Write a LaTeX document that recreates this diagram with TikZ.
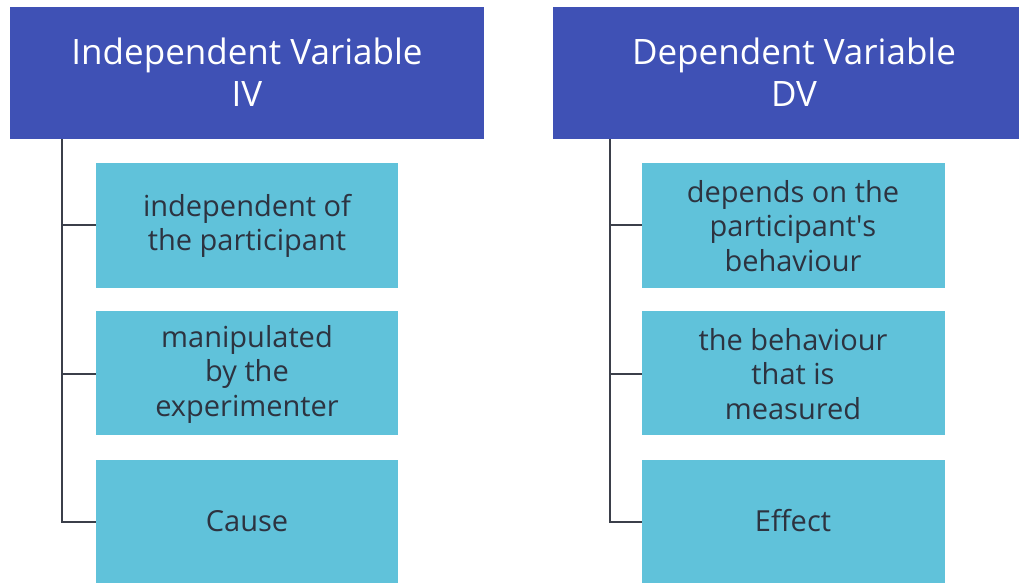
\documentclass[tikz,border=0pt]{standalone}
\usepackage{fontspec}
\setmainfont{Open Sans}
% same face without TeX quote ligatures, for a straight apostrophe
\newfontfamily\straightquote{Open Sans}
\definecolor{headblue}{HTML}{3F51B5}
\definecolor{itemcyan}{HTML}{60C2DA}
\definecolor{inkdark}{HTML}{2D3340}
\definecolor{linegray}{HTML}{3B3F4A}
\begin{document}
\begin{tikzpicture}[x=1pt,y=-1pt,
  header/.style={text=white, align=center,
    font=\fontsize{35}{42}\selectfont},
  item/.style={text=inkdark, align=center,
    font=\fontsize{29}{34.5}\selectfont},
  headbox/.style={fill=headblue},
  itembox/.style={fill=itemcyan},
  branch/.style={draw=linegray, line width=2pt}]
\clip (0,0) rectangle (1019,583);
\fill[white] (0,0) rectangle (1019,583);

% header boxes
\path[headbox] (10,7) rectangle (484,139);
\node[header] (ivh) at (247,72) {Independent Variable\\IV};
\path[headbox] (553,7) rectangle (1035,139);
\node[header] (dvh) at (794,72) {Dependent Variable\\DV};

% item boxes, left column
\path[itembox] (96,163) rectangle (398,288);
\node[item] (iv1) at (247,226) {independent of\\the participant};
\path[itembox] (96,311) rectangle (398,435);
\node[item] (iv2) at (247,374) {manipulated\\by the\\experimenter};
\path[itembox] (96,460) rectangle (398,585);
\node[item] (iv3) at (247,521) {Cause};

% item boxes, right column
\path[itembox] (642,163) rectangle (945,288);
\node[item] (dv1) at (793,226) {depends on the\\participant{\straightquote'}s\\behaviour};
\path[itembox] (642,311) rectangle (945,435);
\node[item] (dv2) at (793,374) {the behaviour\\that is\\measured};
\path[itembox] (642,460) rectangle (945,585);
\node[item] (dv3) at (793,521) {Effect};

% tree connectors
\coordinate (ivtop) at (62,139);
\coordinate (dvtop) at (610,139);
\draw[branch] (ivtop) -- (62,522) -- (96,522);
\draw[branch] (62,225) -- (96,225);
\draw[branch] (62,374) -- (96,374);
\draw[branch] (dvtop) -- (610,522) -- (642,522);
\draw[branch] (610,225) -- (642,225);
\draw[branch] (610,374) -- (642,374);
\end{tikzpicture}
\end{document}
